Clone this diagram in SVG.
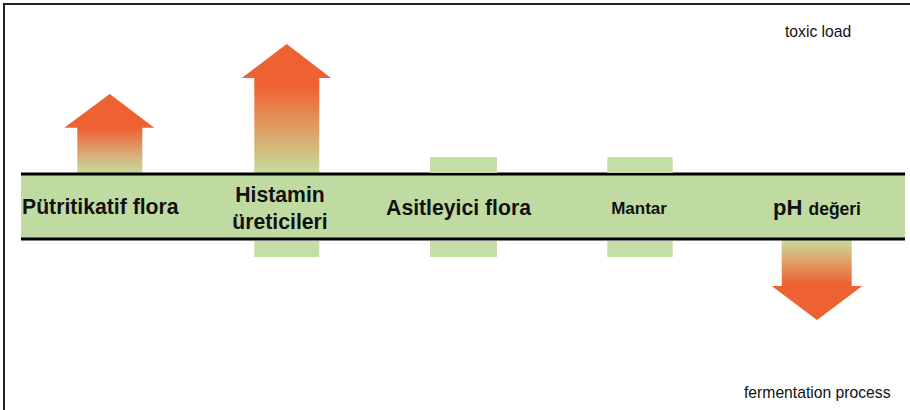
<svg xmlns="http://www.w3.org/2000/svg" width="910" height="410" viewBox="0 0 910 410">
<defs>
<style>
.lbl{font-family:"Liberation Sans",Arial,sans-serif;font-weight:bold;fill:#111;}
.note{font-family:"Liberation Sans",Arial,sans-serif;font-size:15.7px;fill:#111;}
.tab{fill:#c5dea5;}
.rule{stroke:#000;stroke-width:3;}
</style>
<linearGradient id="g1" gradientUnits="userSpaceOnUse" x1="0" y1="128" x2="0" y2="173">
<stop offset="0" stop-color="#ee6133"/>
<stop offset="0.5" stop-color="#dfa070"/>
<stop offset="1" stop-color="#c6dc9e"/>
</linearGradient>
<linearGradient id="g2" gradientUnits="userSpaceOnUse" x1="0" y1="85" x2="0" y2="173">
<stop offset="0" stop-color="#ee6133"/>
<stop offset="0.45" stop-color="#e2985e"/>
<stop offset="1" stop-color="#c6dc9e"/>
</linearGradient>
<linearGradient id="g3" gradientUnits="userSpaceOnUse" x1="0" y1="240" x2="0" y2="284">
<stop offset="0" stop-color="#c6dc9e"/>
<stop offset="0.5" stop-color="#e0a068"/>
<stop offset="1" stop-color="#ee6133"/>
</linearGradient>
</defs>
<rect x="0" y="0" width="910" height="410" fill="#fff"/>
<g id="frame" stroke="#222" stroke-width="2" fill="none">
<path d="M4 410 V4 H910"/>
</g>
<g id="connectors">
<polygon id="arrow-putri" points="109.7,94 154.3,127.7 142.3,127.7 142.3,173 77.3,173 77.3,127.7 64.3,127.7" fill="url(#g1)"/>
<polygon id="arrow-hist" points="286.7,44 331,78 319.3,78 319.3,173 254.3,173 254.3,78 241.7,78" fill="url(#g2)"/>
<polygon id="arrow-ph" points="781.7,240 851.7,240 851.7,286 862.3,286 817,320 771.7,286 781.7,286" fill="url(#g3)"/>
</g>
<g id="band">
<rect x="21" y="175" width="884" height="64" fill="#c0dba2"/>
<line class="rule" x1="21" y1="174" x2="905" y2="174"/>
<line class="rule" x1="21" y1="239" x2="905" y2="239"/>
</g>
<g id="node-putritikatif">
<text class="lbl" x="22" y="214" font-size="21.2">Pütritikatif flora</text>
</g>
<g id="node-histamin">
<rect class="tab" x="254.3" y="241" width="65" height="16"/>
<text class="lbl" x="280" y="202" font-size="21.2" text-anchor="middle">Histamin</text>
<text class="lbl" x="280" y="229" font-size="21.2" text-anchor="middle">üreticileri</text>
</g>
<g id="node-asitleyici">
<rect class="tab" x="430" y="157" width="67" height="16"/>
<rect class="tab" x="430" y="241" width="67" height="16"/>
<text class="lbl" x="458.5" y="215" font-size="21.2" text-anchor="middle">Asitleyici flora</text>
</g>
<g id="node-mantar">
<rect class="tab" x="607.3" y="157" width="65.4" height="16"/>
<rect class="tab" x="607.3" y="241" width="65.4" height="16"/>
<text class="lbl" x="639" y="214" font-size="17" text-anchor="middle">Mantar</text>
</g>
<g id="node-ph">
<text class="lbl" x="773" y="215" font-size="22">pH <tspan font-size="17.5">değeri</tspan></text>
</g>
<g id="labels">
<text class="note" x="785" y="37">toxic load</text>
<text class="note" x="744" y="398">fermentation process</text>
</g>
</svg>
